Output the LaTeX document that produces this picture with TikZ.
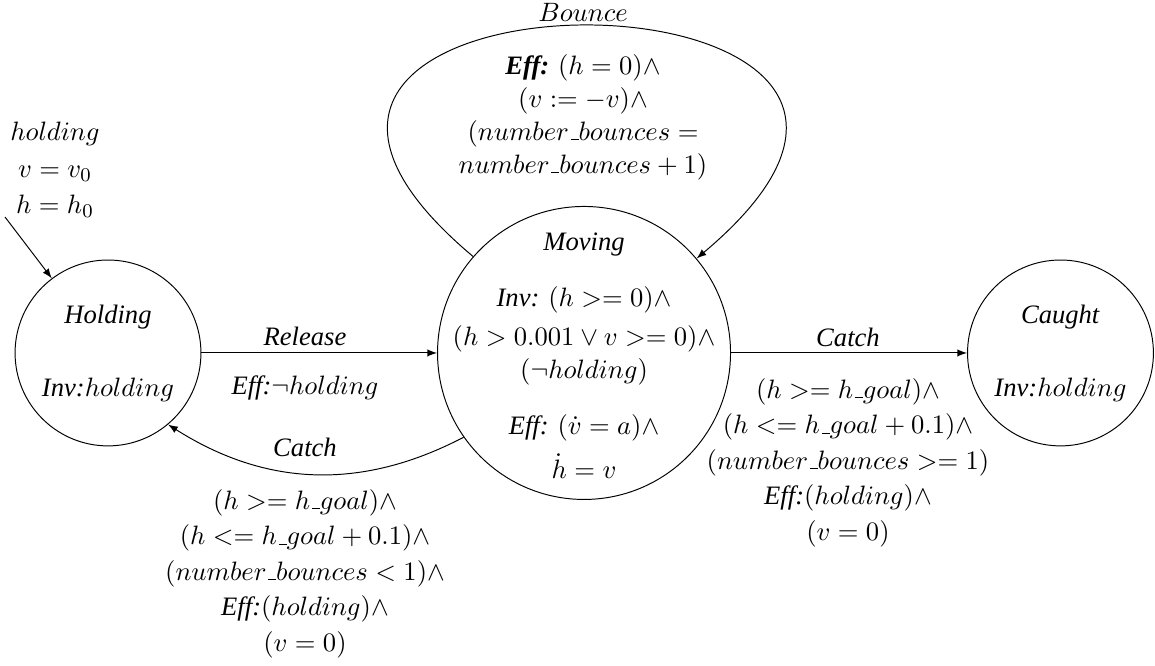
\documentclass[tikz,border=0pt,11pt]{standalone}
\usepackage[no-math]{fontspec}
\setmainfont{Liberation Serif}[
  ItalicFont=Liberation Serif Italic,
  BoldItalicFont=Liberation Serif Bold Italic]
\newcommand{\usc}{\leavevmode\kern.06em\vbox{\hrule width.3em}}
\tikzset{
  state/.style={draw, circle, inner sep=0pt},
  txt/.style={align=center, inner sep=1pt}
}
\begin{document}
\begin{tikzpicture}
            % \helpgrid{17}{10}
            \useasboundingbox (0,0) rectangle (16.715,9.638);
            \node [state, minimum size=2.69cm] (holding) at (1.563,4.530) {};
            \node [state, minimum size=4.24cm] (moving) at (8.452,4.530) {};
            \node [state, minimum size=2.69cm] (caught) at (15.347,4.530) {};

            \node [txt] (holdingtxt) at (holding) {\textit{Holding}\\[16.4pt]\textit{Inv:}$holding$};
            \node [txt] (caughttxt) at (caught) {\textit{Caught}\\[16.4pt]\textit{Inv:}$holding$};
            \node [txt] (movingtxt) at (8.452,4.49) {\textit{Moving}\\[9.4pt]
                \textit{Inv:} $(h >= 0)\wedge$\\[2.4pt]
                $(h > 0.001 \vee v >= 0)\wedge$\\
                $(\neg holding)$\\[9.4pt]
                \textit{Eff:} $(\dot{v} = a)\wedge$\\[4.5pt]
                $\dot{h} = v$};

            \coordinate (init) at (0.072,6.498);
            \node [txt] (inittxt) at (0.796,7.178) {$holding$\\[1.5pt]$v = v_0$\\[1.5pt]$h = h_0$};
            \draw [->,-latex] (init) -- (holding.127);

            \draw [->,-latex] (holding) -- (moving);
            \node [txt] (release) at (4.414,4.776) {\textit{Release}};
            \node [txt] (releaseeff) at (4.414,4.023) {\textit{Eff:}$\neg holding$};

            \draw [->,-latex] (moving) -- (caught);
            \node [txt] (catchr) at (12.272,4.761) {\textit{Catch}};
            \node [txt] (catchrgd) at (12.272,2.945) {$(h >= h\usc goal)\wedge$\\[1pt]
                $(h <= h\usc goal + 0.1)\wedge$\\[1pt]
                $(number\usc bounces >= 1)$\\[1pt]
                \textit{Eff:}$(holding)\wedge$\\[1pt]
                $(v = 0)$};

            \draw [->,-latex] (moving.215) to [bend left=30] (holding.310);
            \node [txt] (catchl) at (4.414,3.169) {\textit{Catch}};
            \node [txt] (catchlgd) at (4.414,1.339) {$(h >= h\usc goal)\wedge$\\[1pt]
                $(h <= h\usc goal + 0.1)\wedge$\\[1pt]
                $(number\usc bounces < 1)\wedge$\\[1pt]
                \textit{Eff:}$(holding)\wedge$\\[1pt]
                $(v = 0)$};

            \draw [->,-latex] (moving.139) .. controls +(140:6.96) and +(40:6.96) .. (moving.40);
            \node [txt] (bounce) at (8.437,9.464) {$Bounce$};
            \node [txt] (bounceeff) at (8.437,7.945) {\textbf{\textit{Eff:}} $(h = 0)\wedge$\\
                $(v := -v)\wedge$\\
                $(number\usc bounces =$\\
                $number\usc bounces + 1)$};
\end{tikzpicture}
\end{document}
